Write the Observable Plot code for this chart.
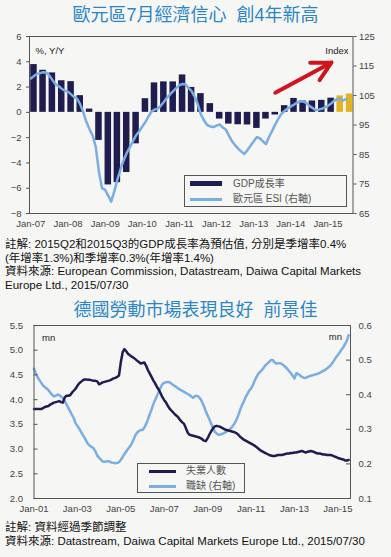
<!DOCTYPE html>
<html><head><meta charset="utf-8">
<script src="https://cdn.jsdelivr.net/npm/d3@7"></script>
<script src="https://cdn.jsdelivr.net/npm/@observablehq/plot@0.6"></script>
<style>
html,body{margin:0;padding:0;background:#f6f6f4;}
#page{position:relative;width:391px;height:557px;overflow:hidden;font-family:"Liberation Sans",Arial,"Noto Sans CJK TC",sans-serif;}
.title{position:absolute;left:0;width:391px;text-align:center;font-size:18px;line-height:22px;color:#2a86c9;font-family:"Liberation Sans","Noto Sans CJK TC",sans-serif;white-space:nowrap;}
.note{position:absolute;left:5px;font-size:11.5px;color:#111;white-space:nowrap;font-family:"Liberation Sans","Noto Sans CJK TC",sans-serif;}
.chart{position:absolute;left:0;}
.legend{position:absolute;border:1px solid #555;background:#f6f6f4;font-size:10px;color:#555;box-sizing:border-box;font-family:"Liberation Sans","Noto Sans CJK TC",sans-serif;}
.sw{position:absolute;}
.lt{position:absolute;line-height:12px;white-space:nowrap;}
</style></head>
<body>
<div id="page">
  <div class="title" style="top:4px">歐元區7月經濟信心&nbsp;&nbsp;創4年新高</div>
  <div class="chart" id="c1" style="top:28px"></div>
  <div class="legend" style="left:184px;top:175px;width:163px;height:32px">
    <div class="sw" style="left:5px;top:5px;width:32px;height:5px;background:#1f1c50"></div>
    <div class="lt" style="left:48px;top:2px">GDP成長率</div>
    <div class="sw" style="left:5px;top:21.5px;width:32px;height:3px;background:#79aee2"></div>
    <div class="lt" style="left:48px;top:17px">歐元區 ESI (右軸)</div>
  </div>
  <div class="note" style="top:238px;line-height:13.5px">註解: 2015Q2和2015Q3的GDP成長率為預估值, 分別是季增率0.4%<br>(年增率1.3%)和季增率0.3%(年增率1.4%)<br>資料來源: European Commission, Datastream, Daiwa Capital Markets<br>Europe Ltd., 2015/07/30</div>
  <div class="title" style="top:299px">德國勞動市場表現良好&nbsp;&nbsp;前景佳</div>
  <div class="chart" id="c2" style="top:318px"></div>
  <div class="legend" style="left:137px;top:463px;width:108px;height:30px">
    <div class="sw" style="left:11px;top:5.5px;width:27px;height:3px;background:#1f1c50"></div>
    <div class="lt" style="left:48px;top:1px">失業人數</div>
    <div class="sw" style="left:11px;top:20.5px;width:27px;height:3px;background:#79aee2"></div>
    <div class="lt" style="left:48px;top:16px">職缺 (右軸)</div>
  </div>
  <div class="note" style="top:520px;line-height:14.3px">註解: 資料經過季節調整<br>資料來源: Datastream, Daiwa Capital Markets Europe Ltd., 2015/07/30</div>
</div>
<script>
// ---------- Chart 1 data: Euro area ----------
// Quarterly GDP y/y (%), 2007Q1 .. 2015Q3 (last two are estimates)
const gdpStartYear = 2007;
const gdpValues = [
  3.78, 3.33, 3.12, 2.50,
  2.43, 1.32, 0.26, -2.22,
  -5.74, -5.56, -4.76, -2.49,
  1.08, 2.33, 2.41, 2.41,
  2.96, 1.97, 1.48, 0.69,
  -0.53, -0.93, -0.98, -1.00,
  -1.27, -0.53, -0.21, 0.53,
  1.10, 0.90, 0.90, 0.95,
  1.12, 1.30, 1.45
];
const gdpEstimatedCount = 2;
// Monthly Euro-area ESI, Jan-07 .. Jul-15 (right axis)
const esiValues = [
  110.8, 111.6, 112.3, 112.6, 112.9, 112.8, 111.8, 110.3, 108.8, 108.2, 107.3, 106.6,
  106.3, 105.4, 104.5, 103.9, 102.0, 99.2, 96.0, 93.5, 91.3, 87.5, 79.0, 73.6,
  73.0, 71.0, 69.0, 72.5, 76.5, 80.0, 83.0, 85.5, 87.5, 89.5, 91.5, 92.8,
  94.5, 96.0, 97.8, 99.5, 100.2, 100.5, 101.5, 102.8, 104.2, 105.4, 106.5, 107.5,
  108.5, 108.9, 108.8, 107.6, 106.5, 104.5, 102.0, 98.5, 96.5, 95.0, 94.5, 94.3,
  94.8, 95.2, 94.2, 93.5, 91.5, 89.5, 88.2, 87.0, 86.0, 85.2, 86.5, 88.0,
  89.5, 90.9, 90.5, 89.5, 88.5, 91.0, 93.0, 95.2, 97.2, 98.8, 99.8, 100.6,
  101.3, 101.9, 102.5, 103.0, 103.0, 102.5, 101.5, 100.8, 100.1, 100.2, 100.5, 101.0,
  101.5, 102.3, 103.2, 103.8, 103.8, 103.3, 103.9
];
const leftTicks1 = [-8, -6, -4, -2, 0, 2, 4, 6];
const rightTicks1 = [65, 75, 85, 95, 105, 115, 125];
const xTickYears1 = [2007, 2008, 2009, 2010, 2011, 2012, 2013, 2014, 2015];
const arrowFrom = ["2013-08-01", 1.55];
const arrowTo = ["2015-02-05", 3.95];

// ---------- Chart 2 data: Germany labour market ----------
// Monthly, Jan-01 .. Jul-15 (millions)
const unemployed = [
  3.81, 3.81, 3.81, 3.81, 3.81, 3.83, 3.85, 3.86, 3.87, 3.90, 3.92, 3.94,
  3.95, 3.96, 3.97, 3.95, 3.94, 4.04, 4.08, 4.08, 4.09, 4.14, 4.18, 4.22,
  4.28, 4.33, 4.36, 4.39, 4.41, 4.41, 4.40, 4.40, 4.39, 4.38, 4.38, 4.37,
  4.31, 4.33, 4.35, 4.36, 4.37, 4.38, 4.39, 4.41, 4.43, 4.44, 4.46, 4.49,
  4.76, 4.96, 5.02, 4.98, 4.93, 4.90, 4.87, 4.85, 4.82, 4.79, 4.76, 4.73,
  4.74, 4.75, 4.69, 4.60, 4.53, 4.46, 4.39, 4.33, 4.26, 4.20, 4.13, 4.05,
  3.99, 3.94, 3.88, 3.82, 3.78, 3.74, 3.70, 3.67, 3.63, 3.58, 3.54, 3.51,
  3.42, 3.33, 3.29, 3.28, 3.27, 3.26, 3.25, 3.24, 3.22, 3.20, 3.17, 3.16,
  3.22, 3.30, 3.36, 3.42, 3.46, 3.47, 3.46, 3.45, 3.43, 3.41, 3.39, 3.38,
  3.37, 3.36, 3.35, 3.34, 3.32, 3.29, 3.25, 3.22, 3.19, 3.17, 3.15, 3.13,
  3.11, 3.09, 3.07, 3.04, 3.01, 2.98, 2.96, 2.94, 2.92, 2.90, 2.88, 2.87,
  2.86, 2.86, 2.87, 2.88, 2.88, 2.88, 2.89, 2.90, 2.91, 2.91, 2.92, 2.92,
  2.93, 2.93, 2.94, 2.95, 2.96, 2.95, 2.93, 2.94, 2.95, 2.96, 2.95, 2.94,
  2.92, 2.91, 2.91, 2.90, 2.89, 2.89, 2.88, 2.88, 2.88, 2.87, 2.85, 2.84,
  2.82, 2.81, 2.80, 2.79, 2.77, 2.77, 2.78
];
const vacancies = [
  0.475, 0.462, 0.451, 0.443, 0.435, 0.427, 0.422, 0.418, 0.413, 0.406, 0.400, 0.395,
  0.397, 0.400, 0.399, 0.395, 0.390, 0.382, 0.372, 0.362, 0.352, 0.342, 0.332, 0.318,
  0.310, 0.302, 0.293, 0.284, 0.276, 0.266, 0.257, 0.252, 0.249, 0.245, 0.236, 0.224,
  0.218, 0.212, 0.207, 0.206, 0.207, 0.208, 0.206, 0.204, 0.203, 0.202, 0.203, 0.205,
  0.212, 0.220, 0.228, 0.236, 0.243, 0.250, 0.258, 0.270, 0.282, 0.290, 0.295, 0.298,
  0.298, 0.305, 0.315, 0.328, 0.343, 0.357, 0.372, 0.385, 0.397, 0.408, 0.420, 0.431,
  0.434, 0.436, 0.437, 0.436, 0.432, 0.428, 0.425, 0.421, 0.417, 0.414, 0.411, 0.408,
  0.405, 0.402, 0.399, 0.395, 0.391, 0.396, 0.397, 0.394, 0.388, 0.378, 0.366, 0.352,
  0.340, 0.328, 0.316, 0.303, 0.293, 0.288, 0.284, 0.285, 0.287, 0.289, 0.292, 0.295,
  0.299, 0.304, 0.310, 0.318, 0.328, 0.341, 0.356, 0.370, 0.380, 0.393, 0.402, 0.412,
  0.418, 0.428, 0.440, 0.451, 0.460, 0.466, 0.471, 0.478, 0.485, 0.490, 0.495, 0.500,
  0.500, 0.493, 0.490, 0.491, 0.491, 0.489, 0.485, 0.480, 0.475, 0.468, 0.462, 0.455,
  0.447, 0.462, 0.460, 0.456, 0.452, 0.449, 0.448, 0.451, 0.453, 0.455, 0.456, 0.458,
  0.459, 0.461, 0.463, 0.466, 0.469, 0.472, 0.476, 0.480, 0.485, 0.492, 0.500, 0.508,
  0.515, 0.522, 0.530, 0.537, 0.546, 0.556, 0.572
];
const leftTicks2 = [2.0, 2.5, 3.0, 3.5, 4.0, 4.5, 5.0, 5.5];
const rightTicks2 = [0.1, 0.2, 0.3, 0.4, 0.5, 0.6];
const xTickYears2 = [2001, 2003, 2005, 2007, 2009, 2011, 2013, 2015];

// ---------- build ----------
const DAY = 864e5;
const fmtX = d3.utcFormat("%b-%y");
const axisFont = {fontSize: "9.5px"};

// chart 1
const esiToLeft = v => -8 + (v - 65) * 14 / 60;
const leftToEsi = y => 65 + (y + 8) * 60 / 14;
const gdpData = gdpValues.map((v, i) => {
  const c = Date.UTC(gdpStartYear, 3 * i + 1, 1);
  return {x1: new Date(c - 32 * DAY), x2: new Date(c + 32 * DAY), v, est: i >= gdpValues.length - gdpEstimatedCount};
});
const esiData = esiValues.map((v, i) => ({date: new Date(Date.UTC(2007, i, 1)), v}));
const arrowData = [{x1: new Date(arrowFrom[0]), y1: arrowFrom[1], x2: new Date(arrowTo[0]), y2: arrowTo[1]}];

const p1 = Plot.plot({
  width: 391, height: 207,
  marginTop: 8, marginBottom: 22, marginLeft: 29, marginRight: 38.5,
  style: {background: "transparent", fontFamily: "'Liberation Sans', Arial, sans-serif", fontSize: "9.5px", color: "#444"},
  x: {type: "utc", domain: [new Date(Date.UTC(2006, 11, 19)), new Date(Date.UTC(2015, 8, 4))]},
  y: {domain: [-8, 6]},
  marks: [
    Plot.rectY(gdpData.filter(d => !d.est), {x1: "x1", x2: "x2", y1: 0, y2: "v", fill: "#1f1c50"}),
    Plot.rectY(gdpData.filter(d => d.est), {x1: "x1", x2: "x2", y1: 0, y2: "v", fill: "#e2b41f"}),
    Plot.line(esiData, {x: "date", y: d => esiToLeft(d.v), stroke: "#79aee2", strokeWidth: 2.5}),
    Plot.arrow(arrowData, {x1: "x1", y1: "y1", x2: "x2", y2: "y2", stroke: "#d0141c", strokeWidth: 4, headLength: 13, headAngle: 55}),
    Plot.frame({stroke: "#555"}),
    Plot.axisY(leftTicks1, {anchor: "left", tickSize: 3, tickPadding: 5, label: null, stroke: "#555", ...axisFont}),
    Plot.axisY(rightTicks1.map(esiToLeft), {anchor: "right", tickSize: 3, tickPadding: 3, label: null, stroke: "#555", tickFormat: d => String(Math.round(leftToEsi(d))), ...axisFont}),
    Plot.axisX(xTickYears1.map(y => new Date(Date.UTC(y, 0, 1))), {tickSize: 0, tickPadding: 7, label: null, tickFormat: fmtX, ...axisFont}),
    Plot.text(["%, Y/Y"], {text: d => d, frameAnchor: "top-left", dx: 6, dy: 11, textAnchor: "start", fill: "#222", fontSize: 9.5}),
    Plot.text(["Index"], {text: d => d, frameAnchor: "top-right", dx: -4.5, dy: 11, textAnchor: "end", fill: "#222", fontSize: 9.5})
  ]
});
document.getElementById("c1").appendChild(p1);

// chart 2
const vacToLeft = v => 2 + (v - 0.1) * 7;
const leftToVac = y => 0.1 + (y - 2) / 7;
const uData = unemployed.map((v, i) => ({date: new Date(Date.UTC(2001, i, 1)), v}));
const vData = vacancies.map((v, i) => ({date: new Date(Date.UTC(2001, i, 1)), v}));
const W2 = 391 - 33.5 - 41;

const p2 = Plot.plot({
  width: 391, height: 200,
  marginTop: 7, marginBottom: 20, marginLeft: 33.5, marginRight: 41,
  style: {background: "transparent", fontFamily: "'Liberation Sans', Arial, sans-serif", fontSize: "9.5px", color: "#444"},
  x: {type: "utc", domain: [new Date(Date.UTC(2001, 0, 1)), new Date(Date.UTC(2015, 7, 1))]},
  y: {domain: [2, 5.5]},
  marks: [
    Plot.line(vData, {x: "date", y: d => vacToLeft(d.v), stroke: "#79aee2", strokeWidth: 2.5}),
    Plot.line(uData, {x: "date", y: "v", stroke: "#1f1c50", strokeWidth: 2.5}),
    Plot.frame({stroke: "#555"}),
    Plot.tickY(leftTicks2, {y: d => d, stroke: "#555", insetRight: W2 - 4}),
    Plot.tickY(rightTicks2.map(vacToLeft), {y: d => d, stroke: "#555", insetLeft: W2 - 4}),
    Plot.axisY(leftTicks2, {anchor: "left", tickSize: 0, tickPadding: 11, label: null, tickFormat: d3.format(".1f"), ...axisFont}),
    Plot.axisY(rightTicks2.map(vacToLeft), {anchor: "right", tickSize: 0, tickPadding: 8, label: null, tickFormat: d => d3.format(".1f")(leftToVac(d)), ...axisFont}),
    Plot.axisX(xTickYears2.map(y => new Date(Date.UTC(y, 0, 1))), {tickSize: 0, tickPadding: 6.5, label: null, tickFormat: fmtX, ...axisFont}),
    Plot.text(["mn"], {text: d => d, frameAnchor: "top-left", dx: 8, dy: 9, textAnchor: "start", fill: "#222", fontSize: 9.5}),
    Plot.text(["mn"], {text: d => d, frameAnchor: "top-right", dx: -8.5, dy: 8, textAnchor: "end", fill: "#222", fontSize: 9.5})
  ]
});
document.getElementById("c2").appendChild(p2);
</script>
</body></html>
